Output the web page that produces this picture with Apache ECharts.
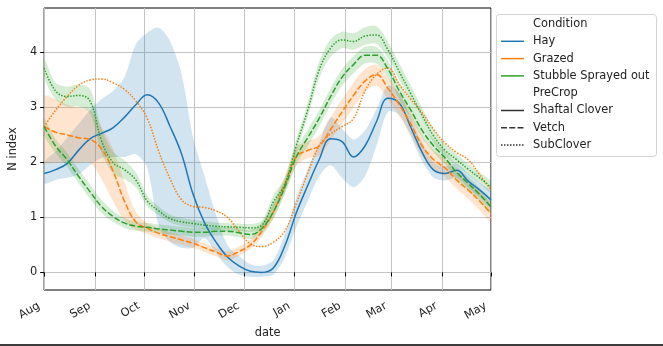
<!DOCTYPE html>
<html>
<head>
<meta charset="utf-8">
<script src="https://cdn.jsdelivr.net/npm/echarts@6/dist/echarts.min.js"></script>
<style>
  html, body { margin: 0; padding: 0; background: #fff; }
  #chart { width: 663px; height: 346px; }
</style>
</head>
<body>
<div id="chart"></div>
<script>
// Sample dates (weekly) for the N index traces
const dates = ['2021-08-01','2021-08-08','2021-08-15','2021-08-22','2021-08-29','2021-09-05','2021-09-12','2021-09-19','2021-09-26','2021-10-03',
  '2021-10-10','2021-10-17','2021-10-24','2021-10-31','2021-11-07','2021-11-14','2021-11-21','2021-11-28','2021-12-05','2021-12-12',
  '2021-12-19','2021-12-26','2022-01-02','2022-01-09','2022-01-16','2022-01-23','2022-01-30','2022-02-06','2022-02-13','2022-02-20',
  '2022-02-27','2022-03-06','2022-03-13','2022-03-20','2022-03-27','2022-04-03','2022-04-10','2022-04-17','2022-04-24','2022-05-01'];

// Hay / Shaftal Clover
const hayShaftal   = [1.80,1.87,1.98,2.22,2.43,2.53,2.63,2.82,3.05,3.23,3.08,2.65,2.15,1.42,0.90,0.55,0.28,0.12,0.02,0.00,0.08,0.48,1.08,1.58,2.05,2.43,2.38,2.10,2.30,2.74,3.17,3.08,2.64,2.18,1.86,1.80,1.86,1.66,1.50,1.32];
const hayShaftalLo = [1.62,1.68,1.72,1.78,1.95,2.08,2.10,2.10,2.15,1.90,0.85,0.55,0.45,0.45,0.62,0.35,0.10,-0.04,-0.08,-0.08,-0.04,0.27,0.82,1.30,1.75,1.95,1.72,1.55,1.75,2.30,2.92,2.86,2.47,2.02,1.72,1.67,1.72,1.54,1.37,1.19];
const hayShaftalHi = [2.00,2.20,2.45,2.70,2.95,3.15,3.30,3.55,4.15,4.36,4.45,4.20,3.60,2.45,1.75,1.05,0.50,0.30,0.15,0.12,0.22,0.70,1.35,1.88,2.35,2.82,2.62,2.42,2.58,2.97,3.40,3.26,2.82,2.35,2.00,1.93,1.98,1.80,1.63,1.46];

// Grazed / Vetch
const grazedVetch   = [2.65,2.55,2.50,2.45,2.42,2.25,1.85,1.30,0.92,0.80,0.71,0.65,0.59,0.53,0.45,0.37,0.30,0.38,0.50,0.75,1.10,1.60,2.10,2.22,2.30,2.60,2.92,3.22,3.48,3.60,3.35,3.05,2.70,2.30,2.05,1.90,1.68,1.50,1.30,1.07];
const grazedVetchLo = [2.00,2.00,2.00,2.00,2.00,1.70,1.30,0.95,0.78,0.70,0.62,0.56,0.50,0.45,0.37,0.29,0.22,0.30,0.42,0.65,0.97,1.45,1.93,2.08,2.12,2.40,2.70,3.00,3.28,3.40,3.15,2.85,2.50,2.12,1.88,1.73,1.52,1.34,1.13,0.92];
const grazedVetchHi = [3.20,3.15,3.05,3.00,2.95,2.65,2.25,1.65,1.10,0.90,0.80,0.73,0.67,0.61,0.53,0.45,0.38,0.47,0.60,0.87,1.25,1.75,2.28,2.38,2.48,2.82,3.15,3.45,3.70,3.78,3.55,3.25,2.90,2.48,2.22,2.07,1.84,1.66,1.47,1.22];

// Grazed / SubClover
const grazedSub = [2.65,2.95,3.20,3.40,3.50,3.52,3.45,3.33,3.12,2.80,2.20,1.70,1.32,1.20,1.18,1.12,1.00,0.75,0.52,0.47,0.55,0.75,1.25,1.80,2.30,2.52,2.65,2.80,3.30,3.60,3.72,3.42,3.15,2.90,2.60,2.35,2.18,2.05,1.78,1.50];

// Stubble Sprayed out / Vetch
const stubbleVetch   = [2.65,2.30,2.05,1.75,1.47,1.20,1.02,0.90,0.84,0.82,0.79,0.77,0.75,0.73,0.73,0.75,0.75,0.72,0.69,0.80,1.10,1.55,2.10,2.45,2.80,3.20,3.55,3.78,3.95,3.95,3.70,3.30,2.95,2.58,2.30,2.08,1.82,1.62,1.42,1.19];
const stubbleVetchLo = [2.50,2.17,1.92,1.62,1.34,1.08,0.92,0.81,0.76,0.74,0.71,0.69,0.67,0.65,0.65,0.67,0.67,0.64,0.61,0.70,0.98,1.42,1.96,2.30,2.65,3.05,3.40,3.62,3.80,3.80,3.55,3.15,2.80,2.45,2.18,1.96,1.70,1.50,1.30,1.07];
const stubbleVetchHi = [2.80,2.43,2.18,1.88,1.60,1.32,1.12,0.99,0.92,0.90,0.87,0.85,0.83,0.81,0.81,0.83,0.83,0.80,0.77,0.90,1.22,1.68,2.24,2.60,2.95,3.35,3.70,3.93,4.10,4.10,3.85,3.45,3.10,2.71,2.42,2.20,1.94,1.74,1.54,1.31];

// Stubble Sprayed out / SubClover
const stubbleSub   = [3.72,3.30,3.20,3.22,3.12,2.40,2.00,1.87,1.68,1.30,1.12,0.98,0.92,0.89,0.86,0.84,0.83,0.82,0.81,0.86,1.28,1.60,2.30,2.95,3.68,4.08,4.23,4.20,4.30,4.32,4.05,3.65,3.25,2.85,2.48,2.22,2.05,1.88,1.72,1.55];
const stubbleSubLo = [3.55,3.15,3.02,3.02,2.90,2.18,1.80,1.70,1.55,1.20,1.04,0.91,0.85,0.82,0.79,0.77,0.76,0.75,0.74,0.78,1.16,1.48,2.18,2.82,3.53,3.92,4.08,4.05,4.14,4.16,3.90,3.50,3.10,2.72,2.36,2.11,1.95,1.78,1.62,1.45];
const stubbleSubHi = [3.88,3.45,3.38,3.42,3.34,2.62,2.20,2.04,1.82,1.40,1.20,1.05,0.99,0.96,0.93,0.91,0.90,0.89,0.88,0.94,1.40,1.72,2.42,3.08,3.83,4.24,4.38,4.35,4.46,4.48,4.20,3.80,3.40,2.98,2.60,2.33,2.15,1.98,1.82,1.65];

// Axis ticks
const monthTicks  = ['2021-08-01','2021-09-01','2021-10-01','2021-11-01','2021-12-01','2022-01-01','2022-02-01','2022-03-01','2022-04-01','2022-05-01'];
const monthLabels = ['Aug','Sep','Oct','Nov','Dec','Jan','Feb','Mar','Apr','May'];
const yTicks = [0, 1, 2, 3, 4];

const COLORS = { hay: '#1f77b4', grazed: '#ff7f0e', stubble: '#2ca02c' };
const BANDS  = { hay: 'rgba(31,119,180,0.2)', grazed: 'rgba(255,127,14,0.2)', stubble: 'rgba(44,160,44,0.2)' };
const DASH = { solid: 'solid', vetch: [6, 2.25], sub: [1.5, 1.5] };
const FONT = 'DejaVu Sans';
const FS = 11.4;
const TEXT = '#222';

// x positions are whole days counted from the first month tick
const DAY = 86400000;
function dayOf(s) {
  const p = s.split('-').map(Number);
  return Math.round((Date.UTC(p[0], p[1] - 1, p[2]) - Date.UTC(2021, 7, 1)) / DAY);
}
const days = dates.map(dayOf);
const tickDays = monthTicks.map(dayOf);

function pairs(vals) { return days.map((d, i) => [d, vals[i]]); }

// confidence band: closed polygon through the upper edge and back along the lower edge
function band(lo, hi, fill) {
  return {
    type: 'custom', silent: true, data: [[days[0], lo[0]]],
    renderItem: function (params, api) {
      const upper = days.map((d, i) => api.coord([d, hi[i]]));
      const lower = days.map((d, i) => api.coord([d, lo[i]])).reverse();
      const cs = params.coordSys;
      return {
        type: 'polygon',
        shape: { points: upper.concat(lower), smooth: 0.3 },
        style: { fill: fill, stroke: null },
        clipPath: { type: 'rect', shape: { x: cs.x, y: cs.y, width: cs.width, height: cs.height } }
      };
    }
  };
}
function trace(vals, color, dash) {
  return { type: 'line', data: pairs(vals), symbol: 'none', smooth: 0.4, silent: true,
           lineStyle: { color: color, width: 1.5, type: dash, cap: 'butt' } };
}

const series = [
  band(hayShaftalLo, hayShaftalHi, BANDS.hay),
  trace(hayShaftal, COLORS.hay, DASH.solid),
  band(grazedVetchLo, grazedVetchHi, BANDS.grazed),
  trace(grazedVetch, COLORS.grazed, DASH.vetch),
  trace(grazedSub, COLORS.grazed, DASH.sub),
  band(stubbleVetchLo, stubbleVetchHi, BANDS.stubble),
  trace(stubbleVetch, COLORS.stubble, DASH.vetch),
  band(stubbleSubLo, stubbleSubHi, BANDS.stubble),
  trace(stubbleSub, COLORS.stubble, DASH.sub)
];

// legend drawn as graphics (grouped: Condition then PreCrop)
const legendRows = [
  { label: 'Condition' },
  { label: 'Hay', color: COLORS.hay, dash: 'solid' },
  { label: 'Grazed', color: COLORS.grazed, dash: 'solid' },
  { label: 'Stubble Sprayed out', color: COLORS.stubble, dash: 'solid' },
  { label: 'PreCrop' },
  { label: 'Shaftal Clover', color: '#333', dash: 'solid' },
  { label: 'Vetch', color: '#333', dash: DASH.vetch },
  { label: 'SubClover', color: '#333', dash: DASH.sub }
];
const legendX = 496.5, legendY = 14.5, rowH = 17.3, row0 = 24;
const graphics = [{
  type: 'rect', shape: { x: legendX, y: legendY, width: 160, height: 142, r: 3 },
  style: { fill: 'rgba(255,255,255,0.85)', stroke: '#d4d4d4', lineWidth: 1 }, z: 100
}];
legendRows.forEach((r, i) => {
  const cy = row0 + i * rowH;
  if (r.color) {
    graphics.push({ type: 'line', shape: { x1: 501, y1: cy, x2: 524, y2: cy },
      style: { stroke: r.color, lineWidth: 1.5, lineDash: r.dash === 'solid' ? null : r.dash }, z: 101 });
  }
  graphics.push({ type: 'text', x: 533, y: cy,
    style: { text: r.label, fill: TEXT, font: FS + 'px "' + FONT + '"', textVerticalAlign: 'middle', textAlign: 'left' }, z: 101 });
});
graphics.push({ type: 'rect', shape: { x: 0, y: 344, width: 663, height: 2 }, style: { fill: '#3c3c3c' } });

const chart = echarts.init(document.getElementById('chart'), null, { renderer: 'canvas' });
chart.setOption({
  animation: false,
  backgroundColor: '#fff',
  textStyle: { fontFamily: FONT },
  grid: { left: 40, right: 172, top: 8, bottom: 56, show: true, borderColor: '#000', borderWidth: 1, backgroundColor: 'transparent' },
  xAxis: {
    type: 'value',
    min: tickDays[0], max: tickDays[tickDays.length - 1],
    name: 'date', nameLocation: 'middle', nameGap: 35,
    nameTextStyle: { fontFamily: FONT, fontSize: FS, color: TEXT },
    axisLine: { show: false },
    axisTick: { show: true, length: 4, lineStyle: { color: '#000' }, customValues: tickDays },
    axisLabel: { customValues: tickDays, rotate: 30, margin: 12, padding: [0, 6, 0, 0],
                 fontFamily: FONT, fontSize: FS, color: TEXT, hideOverlap: false,
                 formatter: v => monthLabels[tickDays.indexOf(Math.round(v))] || '' },
    splitLine: { show: true, lineStyle: { color: '#c4c4c4', width: 1 } }
  },
  yAxis: {
    type: 'value', min: -0.32, max: 4.81,
    name: 'N index', nameLocation: 'middle', nameGap: 22, nameRotate: 90,
    nameTextStyle: { fontFamily: FONT, fontSize: FS, color: TEXT },
    axisLine: { show: false },
    axisTick: { show: true, length: 4, lineStyle: { color: '#000' }, customValues: yTicks },
    axisLabel: { customValues: yTicks, margin: 7, fontFamily: FONT, fontSize: FS, color: TEXT },
    splitLine: { show: true, lineStyle: { color: '#c4c4c4', width: 1 } }
  },
  series: series,
  graphic: graphics
});
</script>
</body>
</html>
